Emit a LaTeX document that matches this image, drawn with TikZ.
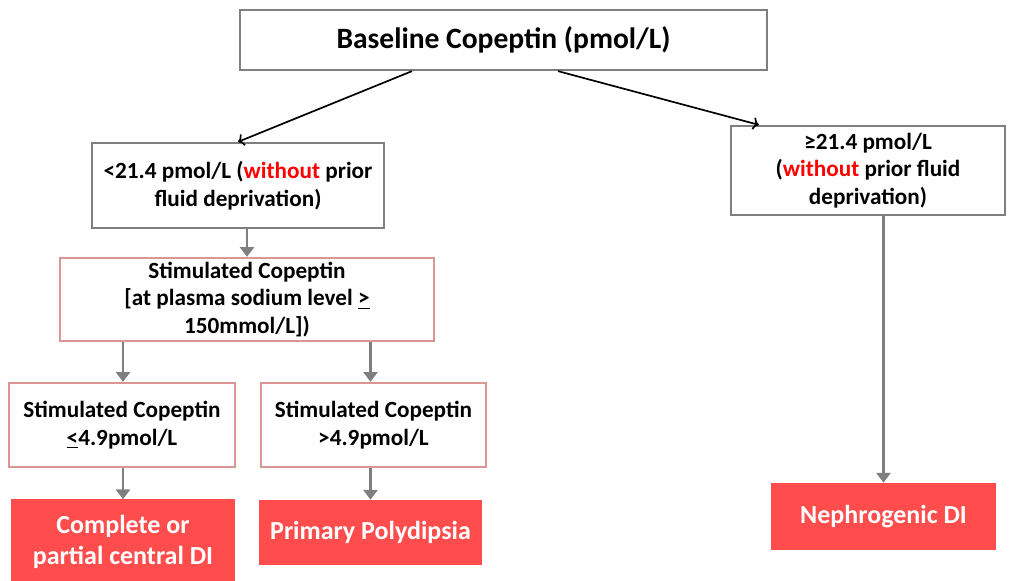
\documentclass[tikz,border=0pt]{standalone}
\usepackage{fontspec}
\setmainfont{Carlito}
\usetikzlibrary{arrows.meta,calc}
\definecolor{boxgray}{RGB}{127,127,127}
\definecolor{boxpink}{RGB}{217,150,148}
\definecolor{resultred}{RGB}{255,77,77}

\begin{document}
\begin{tikzpicture}[x=0.025cm,y=-0.025cm,
    graybox/.style={draw=boxgray,line width=1.6pt,fill=white,align=center,inner sep=0pt,font=\bfseries\fontsize{16.5}{19.5}\selectfont},
    pinkbox/.style={draw=boxpink,line width=1.6pt,fill=white,align=center,inner sep=0pt,font=\bfseries\fontsize{16.5}{19.5}\selectfont},
    resultbox/.style={fill=resultred,text=white,align=center,inner sep=0pt,font=\bfseries\fontsize{18.5}{22}\selectfont},
    grayarrow/.style={-{Triangle[width=10pt,length=7pt]},draw=boxgray,line width=2pt}]
            \useasboundingbox (0,0) rectangle (1013,580);
            \node[graybox,minimum width=13.175cm,minimum height=1.5cm,font=\bfseries\fontsize{21}{24}\selectfont] (base) at (503.5,40) {Baseline Copeptin (pmol/L)};
            \node[graybox,minimum width=7.3cm,minimum height=2.125cm] (low) at (238,185.5) {<21.4 pmol/L ({\color{red}without} prior\\fluid deprivation)};
            \node[graybox,minimum width=6.85cm,minimum height=2.225cm] (high) at (868,170.5) {≥21.4 pmol/L\\({\color{red}without} prior fluid\\deprivation)};
            \node[pinkbox,minimum width=9.35cm,minimum height=2.075cm] (stim) at (247,299.5) {Stimulated Copeptin\\{[}at plasma sodium level \underline{>}\\150mmol/L{]})};
            \node[pinkbox,minimum width=5.65cm,minimum height=2.1cm] (stimlow) at (122,425) {Stimulated Copeptin\\\underline{<}4.9pmol/L};
            \node[pinkbox,minimum width=5.625cm,minimum height=2.1cm] (stimhigh) at (373.5,425) {Stimulated Copeptin\\>4.9pmol/L};
            \node[resultbox,minimum width=5.6cm,minimum height=2.125cm] (central) at (123,542) {Complete or\\partial central DI};
            \node[resultbox,minimum width=5.575cm,minimum height=1.625cm] (poly) at (370.5,532.5) {Primary Polydipsia};
            \node[resultbox,minimum width=5.625cm,minimum height=1.675cm] (nephro) at (883.5,516.5) {Nephrogenic DI};
            \path [->,line width=1.2pt] ($(base.south)+(-91.5,0)$) edge (low.north);
            \path [->,line width=1.2pt] ($(base.south)+(54.5,0)$) edge ($(high.north west)+(29,0)$);
            \draw[grayarrow] (stim.north |- low.south) -- (stim.north);
            \draw[grayarrow] (central.north |- stim.south) -- (central.north |- stimlow.north);
            \draw[grayarrow] (poly.north |- stim.south) -- (poly.north |- stimhigh.north);
            \draw[grayarrow] (central.north |- stimlow.south) -- (central.north);
            \draw[grayarrow] (poly.north |- stimhigh.south) -- (poly.north);
            \draw[grayarrow] (nephro.north |- high.south) -- (nephro.north);
        \end{tikzpicture}
\end{document}
